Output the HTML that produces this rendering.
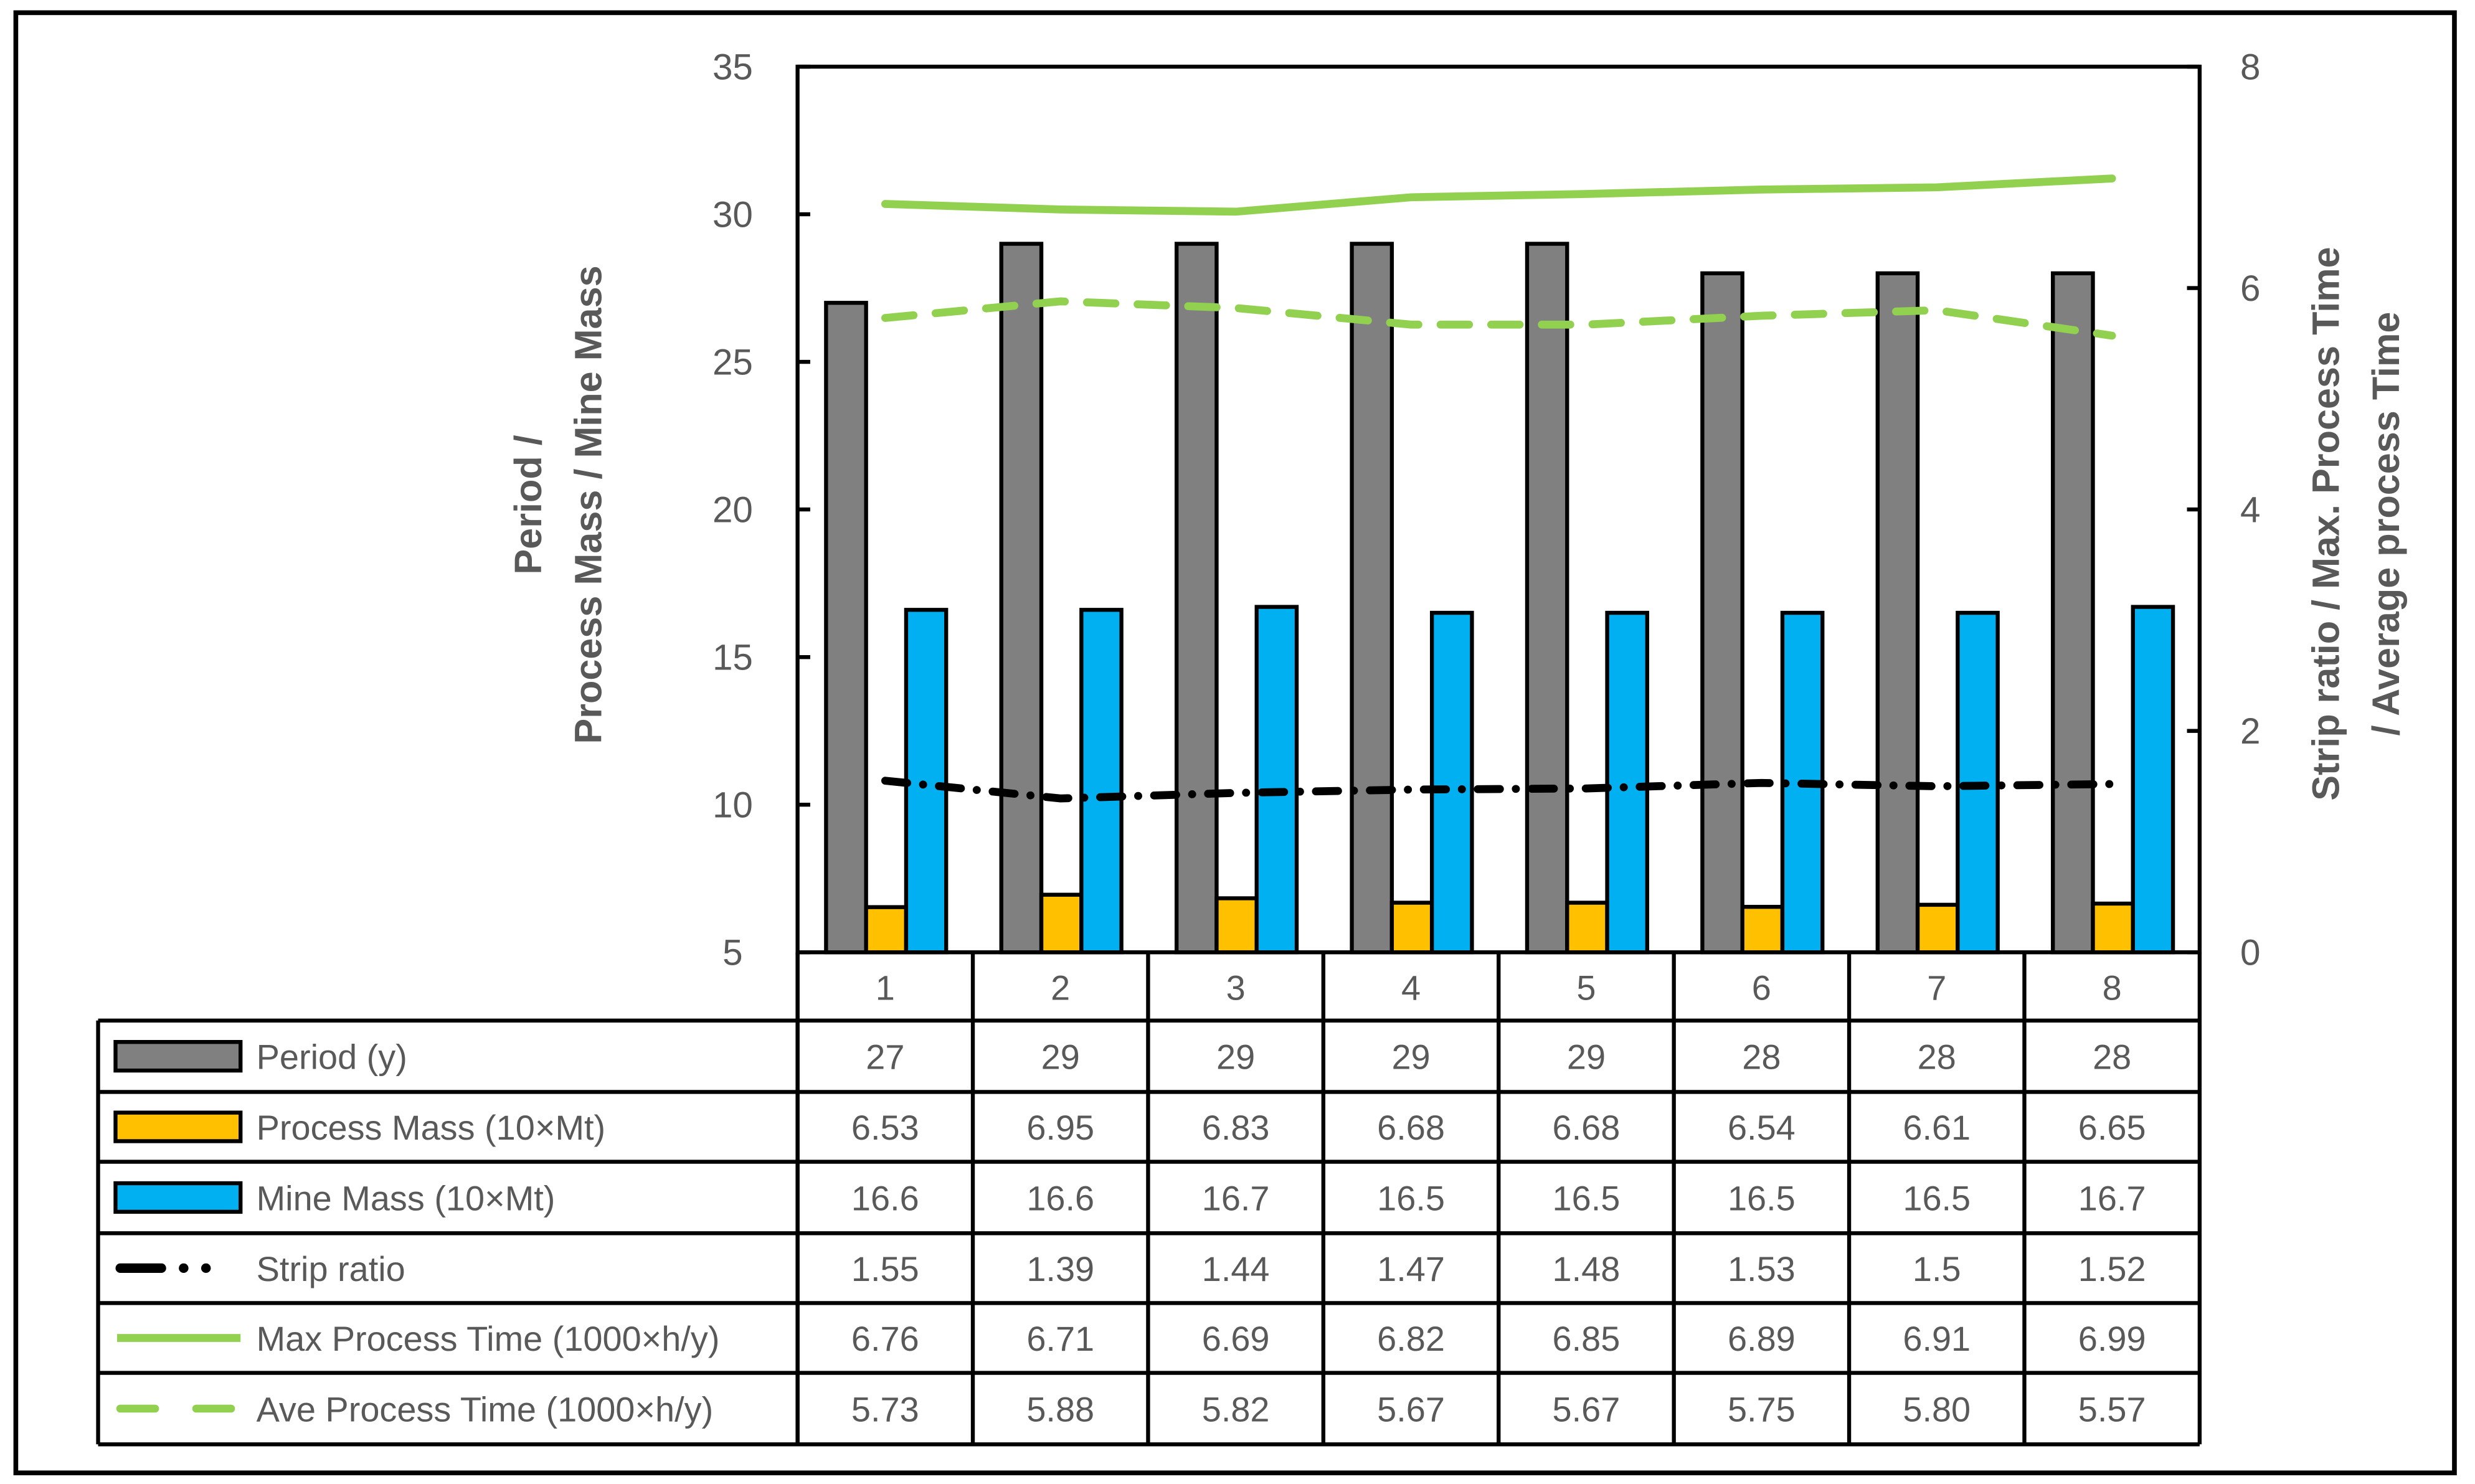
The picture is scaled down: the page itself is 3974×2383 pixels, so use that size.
<!DOCTYPE html>
<html><head><meta charset="utf-8"><style>html,body{margin:0;padding:0;background:#fff}svg{display:block}text{font-family:"Liberation Sans",sans-serif;fill:#595959}</style></head>
<body>
<svg id="chart" width="3974" height="2383" viewBox="0 0 1564 935" preserveAspectRatio="none" xmlns="http://www.w3.org/2000/svg">
<rect x="10" y="8" width="1541" height="920" fill="#fff" stroke="#000" stroke-width="3"/>
<g id="marks"></g>
<g id="tbl"></g>
<text transform="translate(350,318) rotate(-90)" text-anchor="middle" font-size="24" font-weight="bold"><tspan x="0" dy="-8">Period /</tspan><tspan x="0" dy="38">Process Mass / Mine Mass</tspan></text>
<text transform="translate(1478,330) rotate(-90)" text-anchor="middle" font-size="24" font-weight="bold"><tspan x="0" dy="0">Strip ratio / Max. Process Time</tspan><tspan x="0" dy="38">/ Average process Time</tspan></text>
</svg>
<script>
const categories=[1,2,3,4,5,6,7,8];
const period=[27,29,29,29,29,28,28,28];
const processMass=[6.53,6.95,6.83,6.68,6.68,6.54,6.61,6.65];
const mineMass=[16.6,16.6,16.7,16.5,16.5,16.5,16.5,16.7];
const stripRatio=[1.55,1.39,1.44,1.47,1.48,1.53,1.5,1.52];
const maxTime=[6.76,6.71,6.69,6.82,6.85,6.89,6.91,6.99];
const aveTime=[5.73,5.88,5.82,5.67,5.67,5.75,5.80,5.57];
const leftTicks=[5,10,15,20,25,30,35];
const rightTicks=[0,2,4,6,8];
const tableLabels=["Period (y)","Process Mass (10×Mt)","Mine Mass (10×Mt)","Strip ratio","Max Process Time (1000×h/y)","Ave Process Time (1000×h/y)"];
const tableValues=[["27","29","29","29","29","28","28","28"],["6.53","6.95","6.83","6.68","6.68","6.54","6.61","6.65"],["16.6","16.6","16.7","16.5","16.5","16.5","16.5","16.7"],["1.55","1.39","1.44","1.47","1.48","1.53","1.5","1.52"],["6.76","6.71","6.69","6.82","6.85","6.89","6.91","6.99"],["5.73","5.88","5.82","5.67","5.67","5.75","5.80","5.57"]];

const NS="http://www.w3.org/2000/svg";
const PL=504,PR=1390,PT=42,PB=600;
const bw=(PR-PL)/categories.length;
const yL=v=>PB-(v-5)/30*(PB-PT);
const yR=v=>PB-v/8*(PB-PT);
const xC=i=>PL+bw*(i+0.5);
const marks=document.getElementById('marks');
const tbl=document.getElementById('tbl');
function mk(tag,attrs,parent){const e=document.createElementNS(NS,tag);for(const k in attrs)e.setAttribute(k,attrs[k]);(parent||marks).appendChild(e);return e;}

// axes
let ax=mk('rect',{x:PL,y:PT,width:PR-PL,height:PB-PT,fill:'none',stroke:'#000','stroke-width':2.5});


leftTicks.forEach(t=>{
  const l=mk('line',{x1:PL,x2:PL+8,y1:yL(t),y2:yL(t),stroke:'#000','stroke-width':2.5});
  
  
  const tx=mk('text',{x:463,y:yL(t)+8,'text-anchor':'middle','font-size':23});tx.textContent=t;
  
  
});
rightTicks.forEach(t=>{
  const l=mk('line',{x1:PR-8,x2:PR,y1:yR(t),y2:yR(t),stroke:'#000','stroke-width':2.5});
  
  
  const tx=mk('text',{x:1422,y:yR(t)+8,'text-anchor':'middle','font-size':23});tx.textContent=t;
  
  
});
// bars
const series=[[period,'#808080','bar-period'],[processMass,'#FFC000','bar-process-mass'],[mineMass,'#00B0F0','bar-mine-mass']];
const barW=25.3;
categories.forEach((c,i)=>{
  series.forEach((s,j)=>{
    const x=PL+bw*i+18+j*barW;
    const r=mk('rect',{x:x,y:yL(s[0][i]),width:barW,height:PB-yL(s[0][i]),fill:s[1],stroke:'#000','stroke-width':2.5});
    
    
  });
});
function line(vals,attrs,name){
  const p=vals.map((v,i)=>(i?'L':'M')+xC(i)+','+yR(v)).join(' ');
  const e=mk('path',Object.assign({d:p,fill:'none'},attrs));
  
  
}
line(maxTime,{stroke:'#92D050','stroke-width':5,'stroke-linecap':'round'},'max-process-time-line');
line(aveTime,{stroke:'#92D050','stroke-width':5,'stroke-dasharray':'18 14','stroke-linecap':'round'},'ave-process-time-line');
line(stripRatio,{stroke:'#000','stroke-width':5,'stroke-dasharray':'14 10 0.1 10','stroke-linecap':'round'},'strip-ratio-line');

// table
const rowsY=[643,688,732,777,821,865,910];
const T=(x1,y1,x2,y2,n)=>{const l=mk('line',{x1,y1,x2,y2,stroke:'#000','stroke-width':2.5},tbl);};
T(PL,600,PL,910,'table-line');
for(let i=0;i<=categories.length;i++)T(PL+bw*i,600,PL+bw*i,910,'table-col-line');
T(62,643,62,910,'table-line');
rowsY.forEach(y=>T(62,y,PR,y,'table-row-line'));
categories.forEach((c,i)=>{
  const t=mk('text',{x:xC(i),y:630,'text-anchor':'middle','font-size':22},tbl);t.textContent=c;
  
  
});
tableLabels.forEach((lab,r)=>{
  const cy=(rowsY[r]+rowsY[r+1])/2;
  let ic;
  if(r<3){ic=mk('rect',{x:73,y:cy-9,width:79,height:18,fill:series[r][1],stroke:'#000','stroke-width':2.5},tbl);}
  else if(r===3){ic=mk('line',{x1:76,x2:152,y1:cy,y2:cy,stroke:'#000','stroke-width':6,'stroke-dasharray':'26 14 0.1 14 0.1 30','stroke-linecap':'round'},tbl);}
  else if(r===4){ic=mk('line',{x1:74,x2:152,y1:cy,y2:cy,stroke:'#92D050','stroke-width':5},tbl);}
  else{ic=mk('line',{x1:76,x2:152,y1:cy,y2:cy,stroke:'#92D050','stroke-width':5,'stroke-dasharray':'22 26','stroke-linecap':'round'},tbl);}
  
  
  const t=mk('text',{x:162,y:cy+8,'font-size':22},tbl);t.textContent=lab;
  
  
  tableValues[r].forEach((v,i)=>{
    const tv=mk('text',{x:xC(i),y:cy+8,'text-anchor':'middle','font-size':22},tbl);tv.textContent=v;
    
    
  });
});
</script>
</body></html>
